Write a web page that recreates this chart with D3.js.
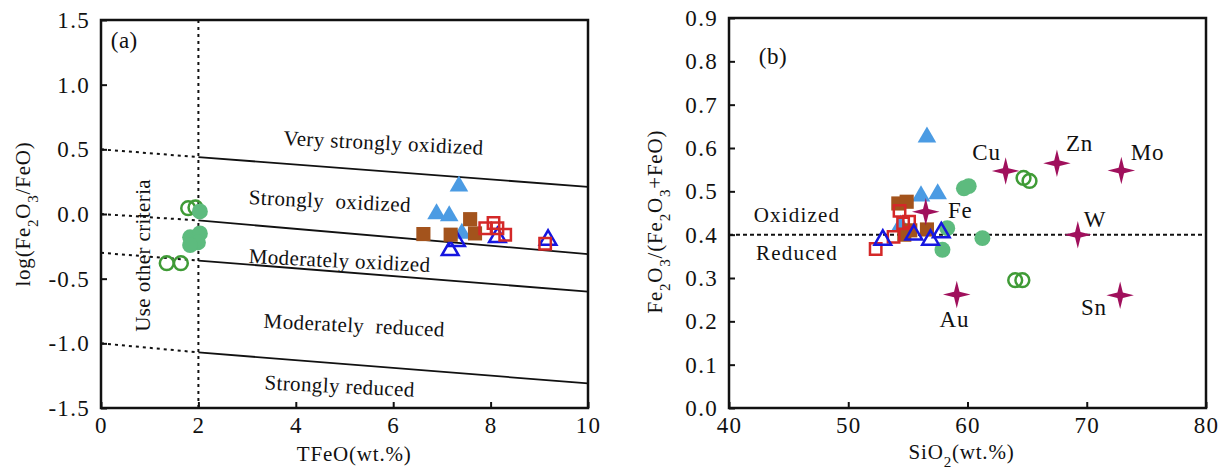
<!DOCTYPE html>
<html>
<head>
<meta charset="utf-8">
<script src="https://cdn.jsdelivr.net/npm/d3@7"></script>
<style>
  body { margin: 0; background: #fff; }
  svg text { font-family: "Liberation Serif", "Times New Roman", serif; fill: #111; }
</style>
</head>
<body>
<div id="chart"></div>
<script>
// ---- data, panel (a): TFeO vs log(Fe2O3/FeO)
var aOpenCircles = [[1.79, 0.045], [1.94, 0.05], [1.35, -0.38], [1.64, -0.38]];
var aFillCircles = [[2.03, 0.02], [1.83, -0.18], [2.03, -0.15], [1.99, -0.22], [1.83, -0.24]];
var aLightTri = [[7.35, 0.215], [6.89, 0.0], [7.15, -0.015], [7.41, -0.15]];
var aOpenTri = [[7.3, -0.21], [7.17, -0.28], [8.14, -0.18], [9.18, -0.2]];
var aBrownSq = [[6.62, -0.155], [7.18, -0.16], [7.58, -0.04], [7.68, -0.15]];
var aRedSq = [[7.89, -0.11], [8.06, -0.07], [8.14, -0.11], [8.3, -0.16], [9.12, -0.23]];
// boundary lines: [x0, y0, x1, y1, dotted?]
var aBounds = [
  [0, 0.5, 2, 0.44, true], [2, 0.44, 10, 0.21, false],
  [0, 0.0, 2, -0.05, true], [2, -0.05, 10, -0.31, false],
  [0, -0.3, 2, -0.36, true], [2, -0.36, 10, -0.6, false],
  [0, -1.0, 2, -1.07, true], [2, -1.07, 10, -1.31, false]
];
var aFields = [
  ["Very strongly oxidized", 5.8, 0.55],
  ["Strongly  oxidized", 4.7, 0.1],
  ["Moderately oxidized", 4.9, -0.36],
  ["Moderately  reduced", 5.2, -0.86],
  ["Strongly reduced", 4.9, -1.33]
];
var aXTicks = [0, 2, 4, 6, 8, 10];
var aYTicks = [-1.5, -1.0, -0.5, 0.0, 0.5, 1.0, 1.5];

// ---- data, panel (b): SiO2 vs Fe2O3/(Fe2O3+FeO)
var bOpenCircles = [[64.7, 0.531], [65.2, 0.524], [64.0, 0.295], [64.6, 0.295]];
var bFillCircles = [[59.7, 0.507], [60.1, 0.512], [58.3, 0.415], [57.9, 0.365], [61.25, 0.392]];
var bLightTri = [[56.6, 0.625], [56.1, 0.489], [57.5, 0.494], [54.4, 0.422]];
var bBrownSq = [[54.2, 0.472], [54.9, 0.476], [56.6, 0.412], [54.7, 0.40], [55.2, 0.41]];
var bRedSq = [[54.3, 0.455], [54.6, 0.426], [55.1, 0.43], [52.3, 0.367], [53.8, 0.395]];
var bOpenTri = [[52.9, 0.388], [55.5, 0.40], [56.9, 0.388], [57.8, 0.405]];
var bMetals = ["Cu", "Zn", "Mo", "W", "Sn", "Au", "Fe"];
var bMetalPts = [[63.2, 0.547], [67.5, 0.565], [72.9, 0.548], [69.25, 0.40], [72.8, 0.26], [59.1, 0.262], [56.5, 0.453]];
var bMetalLabelPos = [[61.6, 0.59], [69.4, 0.61], [75.1, 0.59], [70.7, 0.435], [70.6, 0.232], [58.9, 0.204], [59.4, 0.455]];
var bXTicks = [40, 50, 60, 70, 80];
var bYTicks = [0, 0.1, 0.2, 0.3, 0.4, 0.5, 0.6, 0.7, 0.8, 0.9];

var col = {
  green: "#3f9b36", greenFill: "#5dbb7e", light: "#4b9be3",
  brown: "#a3531c", red: "#d42828", blue: "#1616e0", star: "#a0105c"
};
var serif = "'Liberation Serif', 'Times New Roman', serif";

var svg = d3.select("#chart").append("svg").attr("width", 1231).attr("height", 472)
  .attr("font-family", serif);

// four-pointed star symbol
var star4 = {
  draw: function(ctx, size) {
    var R = Math.sqrt(size), r = R * 0.28;
    for (var i = 0; i < 8; i++) {
      var a = i * Math.PI / 4 - Math.PI / 2, rr = i % 2 ? r : R;
      if (i === 0) ctx.moveTo(rr * Math.cos(a), rr * Math.sin(a));
      else ctx.lineTo(rr * Math.cos(a), rr * Math.sin(a));
    }
    ctx.closePath();
  }
};

function txt(sel, size, ls) {
  return sel.attr("font-family", serif).style("font-family", serif)
    .style("font-size", size + "px").style("letter-spacing", (ls || 0) + "px");
}

function frame(g, x, y, xt, yt) {
  var yAxis = d3.axisLeft(y).tickValues(yt).tickSizeInner(-6).tickSizeOuter(0)
    .tickPadding(11).tickFormat(function(d) { return d.toFixed(1); });
  var xAxis = d3.axisBottom(x).tickValues(xt).tickSizeInner(-6).tickSizeOuter(0)
    .tickPadding(9).tickFormat(function(d) { return d; });
  var ga = g.append("g").attr("transform", "translate(" + x.range()[0] + ",0)").call(yAxis);
  var gb = g.append("g").attr("transform", "translate(0," + y.range()[0] + ")").call(xAxis);
  [ga, gb].forEach(function(s) {
    s.attr("font-family", serif);
    s.select(".domain").remove();
    s.selectAll(".tick line").attr("stroke", "#111").attr("stroke-width", 2);
    txt(s.selectAll(".tick text"), 23, 1.3).attr("fill", "#111");
  });
  g.append("rect")
    .attr("x", x.range()[0]).attr("y", y.range()[1])
    .attr("width", x.range()[1] - x.range()[0]).attr("height", y.range()[0] - y.range()[1])
    .attr("fill", "none").attr("stroke", "#111").attr("stroke-width", 2.5);
}

function plot(g, data, type, size, fill, stroke, sw) {
  g.selectAll(null).data(data).enter().append("path")
    .attr("d", d3.symbol().type(type).size(size))
    .attr("transform", function(d) { return "translate(" + g.x(d[0]) + "," + g.y(d[1]) + ")"; })
    .attr("fill", fill).attr("stroke", stroke).attr("stroke-width", sw || 0);
}

function chem(t, parts) {
  // parts: alternating normal / subscript strings
  parts.forEach(function(p, i) {
    var s = t.append("tspan").text(p);
    if (i % 2) s.attr("baseline-shift", "sub").style("font-size", "15px");
  });
}

// ===== panel (a)
var xa = d3.scaleLinear().domain([0, 10]).range([101, 588]);
var ya = d3.scaleLinear().domain([-1.5, 1.5]).range([408, 20]);
var ga = svg.append("g");
ga.x = xa; ga.y = ya;

ga.append("line").attr("x1", xa(2)).attr("x2", xa(2)).attr("y1", ya(1.5)).attr("y2", ya(-1.5))
  .attr("stroke", "#111").attr("stroke-width", 2).attr("stroke-dasharray", "3,4");
ga.selectAll(".bound").data(aBounds).enter().append("line").attr("class", "bound")
  .attr("x1", function(d) { return xa(d[0]); }).attr("y1", function(d) { return ya(d[1]); })
  .attr("x2", function(d) { return xa(d[2]); }).attr("y2", function(d) { return ya(d[3]); })
  .attr("stroke", "#111").attr("stroke-width", function(d) { return d[4] ? 2 : 1.8; })
  .attr("stroke-dasharray", function(d) { return d[4] ? "3,4" : null; });

frame(ga, xa, ya, aXTicks, aYTicks);

txt(ga.selectAll(".field").data(aFields).enter().append("text"), 21, 0.4)
  .attr("text-anchor", "middle").attr("dominant-baseline", "central")
  .attr("transform", function(d) { return "translate(" + xa(d[1]) + "," + ya(d[2]) + ") rotate(2.8)"; })
  .style("white-space", "pre").text(function(d) { return d[0]; });

txt(ga.append("text"), 21, 0.4).attr("text-anchor", "middle").attr("dominant-baseline", "central")
  .attr("transform", "translate(" + xa(0.86) + "," + ya(-0.32) + ") rotate(-90)")
  .text("Use other criteria");
txt(ga.append("text"), 23, 0.5).attr("x", xa(0.2)).attr("y", ya(1.28)).text("(a)");

plot(ga, aOpenCircles, d3.symbolCircle, 150, "none", col.green, 2.5);
plot(ga, aFillCircles, d3.symbolCircle, 200, col.greenFill, "none");
plot(ga, aLightTri, d3.symbolTriangle, 150, col.light, "none");
plot(ga, aOpenTri, d3.symbolTriangle, 120, "none", col.blue, 2.5);
plot(ga, aBrownSq, d3.symbolSquare, 200, col.brown, "none");
plot(ga, aRedSq, d3.symbolSquare, 130, "none", col.red, 2.5);

txt(ga.append("text"), 21, 0.8).attr("transform", "translate(30," + ya(0) + ") rotate(-90)")
  .attr("text-anchor", "middle")
  .call(chem, ["log(Fe", "2", "O", "3", "/FeO)"]);
txt(ga.append("text"), 21, 0.8).attr("x", xa(5.2)).attr("y", 461).attr("text-anchor", "middle")
  .text("TFeO(wt.%)");

// ===== panel (b)
var xb = d3.scaleLinear().domain([40, 80]).range([729, 1206]);
var yb = d3.scaleLinear().domain([0, 0.9]).range([408, 18]);
var gb = svg.append("g");
gb.x = xb; gb.y = yb;

gb.append("line").attr("x1", xb(40)).attr("x2", xb(80)).attr("y1", yb(0.4)).attr("y2", yb(0.4))
  .attr("stroke", "#111").attr("stroke-width", 2).attr("stroke-dasharray", "4,3");

frame(gb, xb, yb, bXTicks, bYTicks);

txt(gb.append("text"), 23, 0.5).attr("x", xb(42.5)).attr("y", yb(0.795)).text("(b)");
txt(gb.append("text"), 21, 1.2).attr("x", xb(45.7)).attr("y", yb(0.445)).attr("text-anchor", "middle")
  .attr("dominant-baseline", "central").text("Oxidized");
txt(gb.append("text"), 21, 1.2).attr("x", xb(45.7)).attr("y", yb(0.357)).attr("text-anchor", "middle")
  .attr("dominant-baseline", "central").text("Reduced");

plot(gb, bLightTri, d3.symbolTriangle, 150, col.light, "none");
plot(gb, bBrownSq, d3.symbolSquare, 200, col.brown, "none");
plot(gb, bRedSq, d3.symbolSquare, 130, "none", col.red, 2.5);
plot(gb, bFillCircles, d3.symbolCircle, 200, col.greenFill, "none");
plot(gb, bOpenCircles, d3.symbolCircle, 150, "none", col.green, 2.5);
plot(gb, bOpenTri, d3.symbolTriangle, 120, "none", col.blue, 2.5);
plot(gb, bMetalPts, star4, 190, col.star, "none");

txt(gb.selectAll(".metal").data(bMetals).enter().append("text"), 23, 0.8)
  .attr("x", function(d, i) { return xb(bMetalLabelPos[i][0]); })
  .attr("y", function(d, i) { return yb(bMetalLabelPos[i][1]); })
  .attr("text-anchor", "middle").attr("dominant-baseline", "central")
  .text(function(d) { return d; });

txt(gb.append("text"), 21, 0.8).attr("transform", "translate(662," + yb(0.43) + ") rotate(-90)")
  .attr("text-anchor", "middle")
  .call(chem, ["Fe", "2", "O", "3", "/(Fe", "2", "O", "3", "+FeO)"]);
txt(gb.append("text"), 21, 0.8).attr("x", xb(59.5)).attr("y", 459).attr("text-anchor", "middle")
  .call(chem, ["SiO", "2", "(wt.%)"]);
</script>
</body>
</html>
